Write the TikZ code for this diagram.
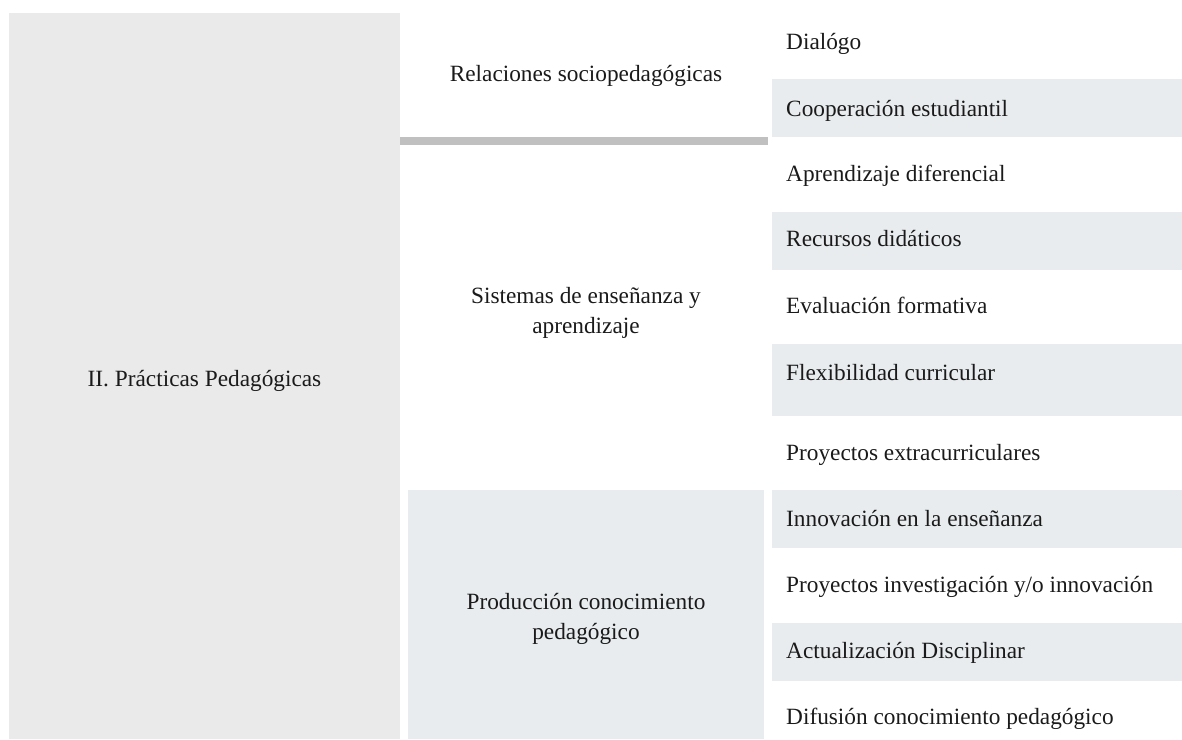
\documentclass[tikz,border=0pt]{standalone}
\usepackage{fontspec}
\setmainfont{Liberation Serif}
\definecolor{panelgray}{HTML}{EAEAEA}
\definecolor{stripe}{HTML}{E9ECEF}
\definecolor{rulegray}{HTML}{C0C0C0}
\definecolor{ink}{HTML}{1A1A1A}

\begin{document}
\begin{tikzpicture}[x=1pt,y=-1pt,
  every node/.style={font=\fontsize{23.3}{30}\selectfont, text=ink, inner sep=0pt},
  item/.style={anchor=base west},
  head/.style={align=center, anchor=center}]
\useasboundingbox (0,0) rectangle (1182,739);

% backgrounds
\fill[panelgray] (9,13) rectangle (400,739);
\fill[rulegray] (400,137) rectangle (768,145);
\fill[stripe] (408,490) rectangle (764,739);
\foreach \a/\b in {79/137, 212/270, 344/416, 490/548, 623/681}
  \fill[stripe] (772,\a) rectangle (1182,\b);

% first level
\node[head] (main) at (204.5,381) {II. Prácticas Pedagógicas};

% second level
\node[head] (rel)  at (586,76)  {Relaciones sociopedagógicas};
\node[head] (sis)  at (586,313) {Sistemas de enseñanza y\\aprendizaje};
\node[head] (prod) at (586,619) {Producción conocimiento\\pedagógico};

% third level
\node[item] (i1)  at (786,49.3)  {Dialógo};
\node[item] (i2)  at (786,116.7) {Cooperación estudiantil};
\node[item] (i3)  at (786,181.7) {Aprendizaje diferencial};
\node[item] (i4)  at (786,246.7) {Recursos didáticos};
\node[item] (i5)  at (786,313.3) {Evaluación formativa};
\node[item] (i6)  at (786,380)   {Flexibilidad curricular};
\node[item] (i7)  at (786,460)   {Proyectos extracurriculares};
\node[item] (i8)  at (786,526)   {Innovación en la enseñanza};
\node[item] (i9)  at (786,592.3) {Proyectos investigación y/o innovación};
\node[item] (i10) at (786,658.3) {Actualización Disciplinar};
\node[item] (i11) at (786,724.3) {Difusión conocimiento pedagógico};
\end{tikzpicture}
\end{document}
